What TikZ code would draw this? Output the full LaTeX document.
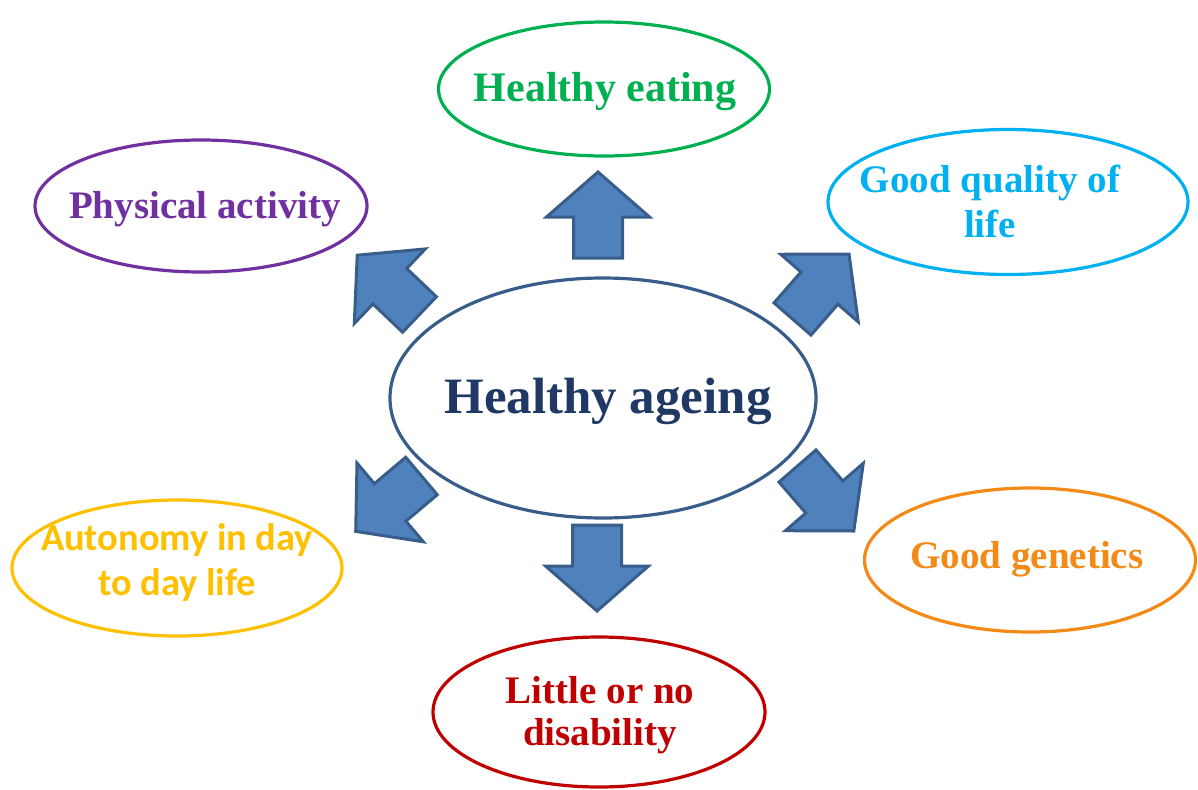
\documentclass[tikz,border=0pt]{standalone}
\usepackage{fontspec}
\setmainfont{Liberation Serif}
\newfontfamily\calib{Carlito}
\usetikzlibrary{shapes.geometric}

\definecolor{hubline}{HTML}{385D8A}
\definecolor{hubtext}{HTML}{1F3864}
\definecolor{arrowfill}{HTML}{4F81BD}
\definecolor{cGreen}{HTML}{00B050}
\definecolor{cPurple}{HTML}{7030A0}
\definecolor{cCyan}{HTML}{00B0F0}
\definecolor{cOrange}{HTML}{F38A16}
\definecolor{cRed}{HTML}{C00000}
\definecolor{cGold}{HTML}{FFC000}

\tikzset{
  oval/.style={ellipse, draw=#1, line width=3.2pt, inner sep=0pt},
  % text is placed by the baseline of its last line
  word/.style={text=#1, inner sep=0pt, anchor=base, align=center,
    font=\bfseries\fontsize{39}{45}\selectfont},
  blockarrow/.style={fill=arrowfill, draw=hubline, line width=3pt, line join=miter},
  pics/bigarrow/.style={code={
    \draw[blockarrow, rotate=#1]
      (0,-24.5) -- (41,-24.5) -- (41,-51.5) -- (86,0) -- (41,51.5)
      -- (41,24.5) -- (0,24.5) -- cycle;
  }}
}

\begin{document}
\begin{tikzpicture}[x=1pt, y=-1pt]
  \useasboundingbox (0,0) rectangle (1198,789);

  % centre
  \node[oval=hubline, minimum width=426pt, minimum height=240pt] (hub) at (603,398) {};
  \node[word=hubtext, font=\bfseries\fontsize{51}{60}\selectfont] (hubt) at (608,413) {Healthy ageing};

  % surrounding factors
  \node[oval=cGreen, minimum width=331pt, minimum height=134pt] (eat) at (604,89) {};
  \node[word=cGreen, font=\bfseries\fontsize{42}{45}\selectfont] (eatt) at (605,102) {Healthy eating};

  \node[oval=cPurple, minimum width=332pt, minimum height=132pt] (phys) at (201,206) {};
  \node[word=cPurple] (physt) at (205,218) {Physical activity};

  \node[oval=cCyan, minimum width=360pt, minimum height=145pt] (qual) at (1008,202) {};
  \node[word=cCyan] (qualt) at (990,237) {Good quality of\\life};

  \node[oval=cGold, minimum width=330pt, minimum height=136pt] (auto) at (177,568) {};
  \node[word=cGold, font=\calib\bfseries\fontsize{38.4}{45}\selectfont] (autot) at (177,595) {Autonomy in day\\to day life};

  \node[oval=cOrange, minimum width=331pt, minimum height=144pt] (gen) at (1030,560) {};
  \node[word=cOrange] (gent) at (1027,568) {Good genetics};

  \node[oval=cRed, minimum width=332pt, minimum height=150pt] (dis) at (599,712) {};
  \node[word=cRed, font=\bfseries\fontsize{39}{42}\selectfont] (dist) at (600,745) {Little or no\\disability};

  % block arrows pointing outwards from the centre
  \pic at (598,258) {bigarrow=90};
  \pic at (597,525) {bigarrow=-90};
  \pic at (419.5,314.5) {bigarrow=136.4};
  \pic at (792.5,319) {bigarrow=48.9};
  \pic at (421.5,476) {bigarrow=-139.9};
  \pic at (797.5,466) {bigarrow=-49.1};
\end{tikzpicture}
\end{document}
